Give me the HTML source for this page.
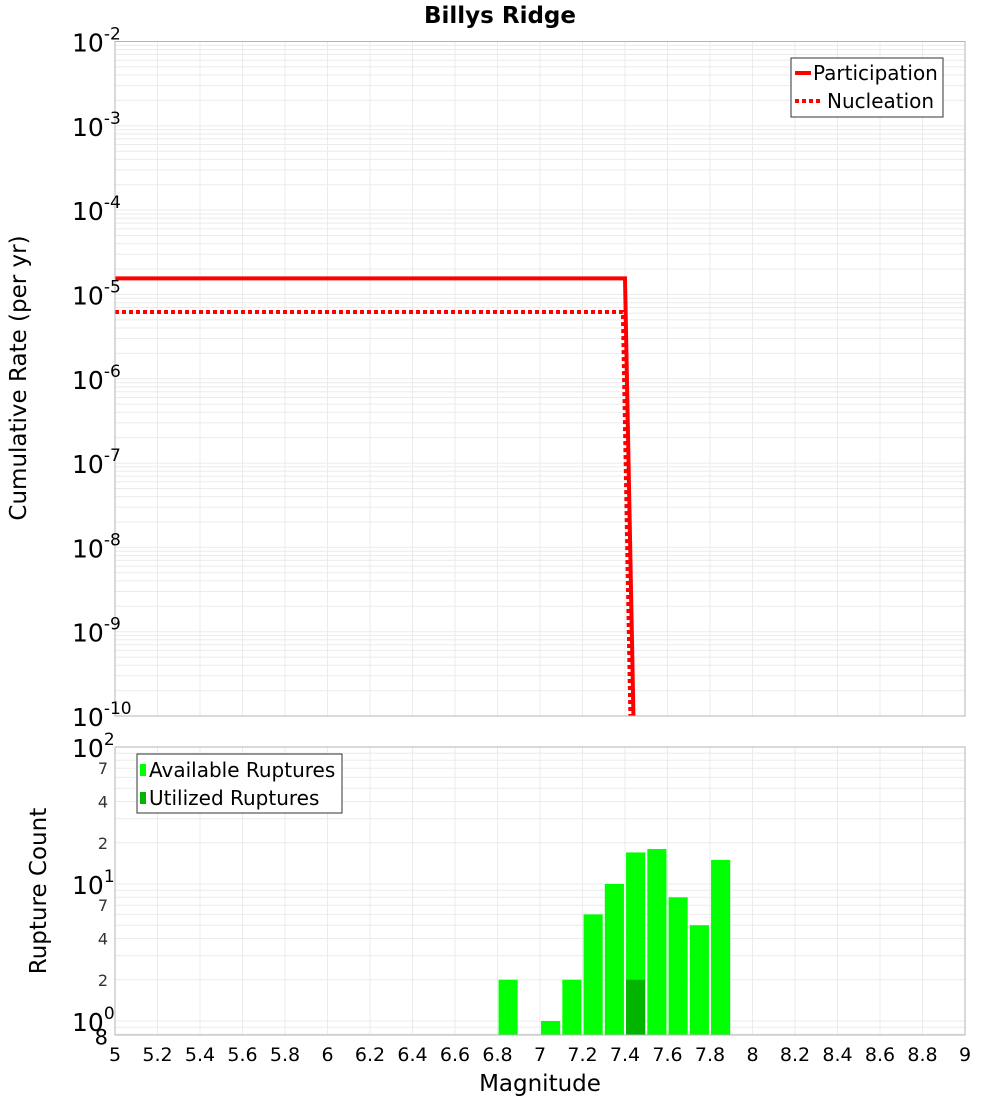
<!DOCTYPE html>
<html><head><meta charset="utf-8"><style>
body{margin:0;background:#fff;width:1000px;height:1100px;overflow:hidden}
svg{font-family:"DejaVu Sans","Liberation Sans",sans-serif}
</style></head><body>
<svg id="c" width="1000" height="1100" xmlns="http://www.w3.org/2000/svg"></svg>
<script>
const partMags=[5,7.4,7.455];
const partRates=[1.55e-5,1.55e-5,1e-12];
const nuclMags=[5,7.39,7.44];
const nuclRates=[6.2e-6,6.2e-6,1e-12];
const barMags=[6.85,7.05,7.15,7.25,7.35,7.45,7.55,7.65,7.75,7.85];
const barCounts=[2,1,2,6,10,17,18,8,5,15];
const usedMags=[7.45];
const usedCounts=[2];
const xTicks=["5","5.2","5.4","5.6","5.8","6","6.2","6.4","6.6","6.8","7","7.2","7.4","7.6","7.8","8","8.2","8.4","8.6","8.8","9"];
const topExps=[-2,-3,-4,-5,-6,-7,-8,-9,-10];

const NS="http://www.w3.org/2000/svg";
const svg=document.getElementById('c');
function mk(t,a,p){const e=document.createElementNS(NS,t);for(const k in a)e.setAttribute(k,a[k]);(p||svg).appendChild(e);return e;}
const L=115,R=965;
const X=m=>L+(m-5)/4*(R-L);
const T0=41.5,T1=716;
const Yt=v=>T0+(-2-Math.log10(v))/8*(T1-T0);
const B0=747,B1=1035;
const Yb=v=>1021-(Math.log10(v))*137;

let t=mk('text',{x:500,y:23,'text-anchor':'middle','font-size':23,'font-weight':'bold'});t.textContent='Billys Ridge';


const gTop=mk('g',{});
for(let e=-10;e<-2;e++)for(let k=1;k<10;k++){const y=Yt(k*Math.pow(10,e));mk('line',{x1:L,x2:R,y1:y,y2:y,stroke:'#ebebeb','stroke-width':1},gTop);}
for(let i=0;i<xTicks.length;i++){const x=X(+xTicks[i]);mk('line',{x1:x,x2:x,y1:T0,y2:T1,stroke:'#ebebeb'},gTop);}
const gBot=mk('g',{});
for(let e=-1;e<2;e++)for(let k=1;k<10;k++){const v=k*Math.pow(10,e);const y=Yb(v);if(y<B0||y>B1)continue;mk('line',{x1:L,x2:R,y1:y,y2:y,stroke:'#ebebeb'},gBot);}
for(let i=0;i<xTicks.length;i++){const x=X(+xTicks[i]);mk('line',{x1:x,x2:x,y1:B0,y2:B1,stroke:'#ebebeb'},gBot);}

const defs=mk('defs',{});
const cp=mk('clipPath',{id:'ct'},defs);mk('rect',{x:L,y:T0,width:R-L,height:T1-T0},cp);

function line(ms,vs,attrs,name){const p=mk('polyline',Object.assign({points:ms.map((m,i)=>X(m)+','+Yt(vs[i])).join(' '),fill:'none','clip-path':'url(#ct)'},attrs));
}
line(nuclMags,nuclRates,{stroke:'#ff0000','stroke-width':4,'stroke-dasharray':'4,3'},'nucleation-line');
line(partMags,partRates,{stroke:'#ff0000','stroke-width':4},'participation-line');

const bw=0.09*(R-L)/4;
barMags.forEach((m,i)=>{const y=Yb(barCounts[i]);const r=mk('rect',{x:X(m)-bw/2,y:y,width:bw,height:B1-y,fill:'#00ff00'});
});
usedMags.forEach((m,i)=>{const y=Yb(usedCounts[i]);const r=mk('rect',{x:X(m)-bw/2,y:y,width:bw,height:B1-y,fill:'#00b400'});
});

mk('rect',{x:L,y:T0,width:R-L,height:T1-T0,fill:'none',stroke:'#b4b4b4'});
mk('rect',{x:L,y:B0,width:R-L,height:B1-B0,fill:'none',stroke:'#b4b4b4'});

topExps.forEach(e=>{const y=Yt(Math.pow(10,e));const tx=mk('text',{x:72,y:y+10,'font-size':25});
tx.innerHTML='10<tspan dy="-12" font-size="17">'+e+'</tspan>';
});
[[2,"10","2"],[1,"10","1"],[0,"10","0"]].forEach(([e,b,s])=>{const y=Yb(Math.pow(10,e));const tx=mk('text',{x:72,y:y+10,'font-size':25});
tx.innerHTML=b+'<tspan dy="-12" font-size="17">'+s+'</tspan>';
});
[[7,70],[4,40],[2,20],[7,7],[4,4],[2,2],[8,0.8]].forEach(([lab,v])=>{const y=Yb(v);const tx=mk('text',{x:108,y:y+6,'font-size':16,'text-anchor':'end',fill:'#333'});
if(lab===8){tx.setAttribute('font-size',21);tx.setAttribute('fill','#000');tx.setAttribute('y',y+10);}
tx.textContent=lab;});

xTicks.forEach(s=>{const tx=mk('text',{x:X(+s),y:1061,'font-size':19,'text-anchor':'middle'});tx.textContent=s;
});
t=mk('text',{x:540,y:1091,'font-size':23,'text-anchor':'middle'});t.textContent='Magnitude';

t=mk('text',{x:0,y:0,'font-size':23,'text-anchor':'middle',transform:'translate(26,378) rotate(-90)'});t.textContent='Cumulative Rate (per yr)';

t=mk('text',{x:0,y:0,'font-size':23,'text-anchor':'middle',transform:'translate(46,891) rotate(-90)'});t.textContent='Rupture Count';


let g=mk('g',{});
mk('rect',{x:791,y:58,width:152,height:59,fill:'#fff',stroke:'#333'},g);
mk('line',{x1:795,x2:811,y1:73,y2:73,stroke:'#f00','stroke-width':4},g);
mk('line',{x1:795,x2:822,y1:101,y2:101,stroke:'#f00','stroke-width':4,'stroke-dasharray':'4,3'},g);
t=mk('text',{x:813,y:80,'font-size':20},g);t.textContent='Participation';
t=mk('text',{x:827,y:108,'font-size':20},g);t.textContent='Nucleation';
g=mk('g',{});
mk('rect',{x:137,y:754,width:205,height:59,fill:'#fff',stroke:'#333'},g);
mk('rect',{x:140,y:764,width:6,height:12,fill:'#00ff00'},g);
mk('rect',{x:140,y:792,width:6,height:12,fill:'#00b400'},g);
t=mk('text',{x:149,y:777,'font-size':20},g);t.textContent='Available Ruptures';
t=mk('text',{x:149,y:805,'font-size':20},g);t.textContent='Utilized Ruptures';
</script>
</body></html>
